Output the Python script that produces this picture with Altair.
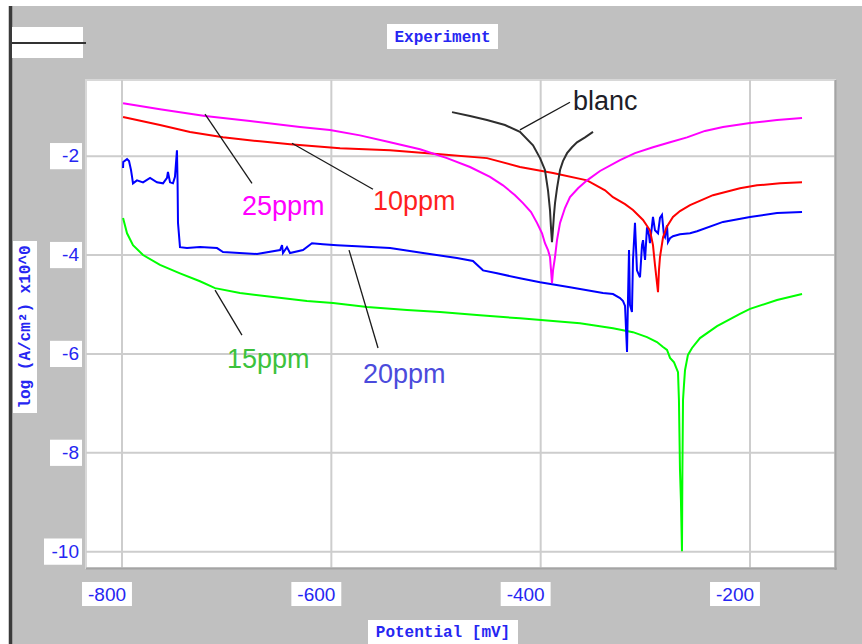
import altair as alt
import pandas as pd

# Polarisation curves: potential (mV) vs log current density
blanc_e = [-484.7, -467.5, -451.3, -434.1, -419.8, -407.3, -400.6, -395.9, -393.0, -391.1, -390.1, -389.2,
           -388.2, -387.3, -386.3, -384.4, -381.5, -378.7, -374.8, -370.1, -365.3, -357.6, -350.0]
blanc_logi = [-1.11, -1.19, -1.27, -1.37, -1.51, -1.78, -2.04, -2.28, -2.69, -3.09, -3.46, -3.74,
              -3.46, -3.19, -2.95, -2.65, -2.28, -2.10, -1.94, -1.82, -1.72, -1.62, -1.51]

ppm25_e = [-799.0, -763.7, -720.7, -677.7, -629.9, -601.3, -572.6, -543.9, -515.3, -489.5, -467.5, -448.4,
           -436.0, -424.5, -416.9, -409.2, -403.5, -398.7, -395.9, -393.0, -391.1, -390.1, -389.2, -388.2,
           -386.3, -384.4, -381.5, -376.8, -372.0, -364.3, -355.7, -343.3, -324.2, -309.9, -292.7, -276.4,
           -260.2, -243.0, -225.8, -200.0, -174.2, -150.3]
ppm25_logi = [-0.93, -1.05, -1.19, -1.29, -1.41, -1.47, -1.58, -1.72, -1.86, -2.04, -2.22, -2.42,
              -2.59, -2.79, -2.95, -3.13, -3.35, -3.56, -3.76, -3.90, -4.04, -4.31, -4.57, -4.31,
              -4.04, -3.70, -3.35, -3.05, -2.83, -2.65, -2.49, -2.30, -2.08, -1.94, -1.82, -1.72,
              -1.62, -1.49, -1.41, -1.33, -1.27, -1.23]

ppm10_e = [-799.0, -763.7, -735.0, -703.5, -668.2, -639.5, -591.7, -543.9, -496.2, -451.3, -419.8, -388.2,
           -355.7, -338.5, -330.9, -319.4, -311.8, -302.2, -295.6, -292.7, -290.8, -287.9, -287.0, -286.0,
           -283.1, -279.3, -273.6, -266.9, -257.3, -235.4, -209.6, -193.3, -171.3, -150.3]
ppm10_logi = [-1.21, -1.37, -1.51, -1.62, -1.70, -1.76, -1.84, -1.88, -1.96, -2.04, -2.22, -2.34,
              -2.49, -2.69, -2.83, -2.97, -3.09, -3.29, -3.50, -3.80, -4.20, -4.75, -4.31, -4.04,
              -3.64, -3.42, -3.23, -3.11, -2.99, -2.79, -2.65, -2.59, -2.55, -2.53]

ppm20_e = [-799.0, -798.8, -795.2, -793.3, -791.4, -790.4, -789.5, -785.7, -779.9, -773.2, -766.6, -760.8,
           -757.0, -756.1, -754.1, -751.3, -749.4, -747.5, -746.9, -746.5, -744.6, -737.9, -725.5, -709.2,
           -703.5, -671.0, -649.0, -647.1, -646.2, -642.4, -639.5, -627.1, -618.5, -608.0, -594.6, -575.5,
           -543.9, -512.4, -480.0, -464.7, -455.1, -441.7, -419.8, -400.6, -372.0, -340.5, -330.9, -324.2,
           -321.3, -319.4, -317.5, -316.6, -315.6, -314.7, -312.8, -311.8, -309.9, -308.0, -305.1, -303.2,
           -302.2, -300.3, -298.4, -296.5, -295.6, -293.6, -292.7, -290.8, -287.9, -286.0, -284.1, -282.2,
           -281.2, -279.3, -278.4, -276.4, -273.6, -266.9, -257.3, -250.6, -225.8, -200.0, -174.2, -150.3]
ppm20_logi = [-2.24, -2.12, -2.06, -2.10, -2.28, -2.42, -2.55, -2.49, -2.53, -2.44, -2.53, -2.55,
              -2.44, -2.32, -2.53, -2.55, -2.42, -1.88, -2.55, -3.35, -3.84, -3.86, -3.84, -3.86,
              -3.94, -3.98, -3.90, -3.80, -3.96, -3.84, -3.96, -3.90, -3.76, -3.78, -3.80, -3.82,
              -3.86, -3.96, -4.06, -4.12, -4.31, -4.37, -4.47, -4.55, -4.65, -4.77, -4.79, -4.87,
              -4.93, -5.03, -5.96, -4.91, -3.90, -5.01, -5.15, -4.10, -3.35, -4.31, -4.45, -3.80,
              -3.70, -4.10, -3.44, -3.60, -3.76, -3.40, -3.23, -3.50, -3.56, -3.25, -3.19, -3.60,
              -3.64, -3.40, -3.74, -3.66, -3.62, -3.58, -3.56, -3.52, -3.33, -3.23, -3.15, -3.13]

ppm15_e = [-799.0, -795.2, -789.5, -779.9, -763.7, -744.6, -725.5, -711.1, -687.3, -655.7, -623.3, -598.4,
           -565.9, -527.7, -496.2, -458.0, -419.8, -362.4, -330.9, -311.8, -298.4, -288.9, -283.1, -279.3,
           -276.4, -272.6, -268.8, -267.9, -266.9, -266.0, -265.0, -264.6, -264.0, -263.1, -262.1, -259.3,
           -255.4, -247.8, -231.5, -209.6, -200.0, -174.2, -150.3]
ppm15_logi = [-3.25, -3.56, -3.80, -4.00, -4.20, -4.37, -4.53, -4.67, -4.77, -4.85, -4.93, -4.97,
              -5.05, -5.11, -5.15, -5.22, -5.28, -5.38, -5.48, -5.56, -5.66, -5.76, -5.86, -5.92,
              -6.08, -6.17, -6.37, -6.93, -8.35, -8.96, -9.99, -8.35, -6.93, -6.63, -6.33, -6.02,
              -5.88, -5.68, -5.44, -5.19, -5.09, -4.91, -4.79]

series_names = ["15ppm", "20ppm", "10ppm", "25ppm", "blanc"]
series_colors = ["#00ff00", "#0000ff", "#ff0000", "#ff00ff", "#2e2e2e"]

# Annotation labels and their leader lines
ann_text = ["blanc", "25ppm", "10ppm", "15ppm", "20ppm"]
ann_color = ["#1e1e28", "#ff00ff", "#ff1f1f", "#3cc23c", "#4b4bdc"]
ann_e = [-369.1, -685.4, -560.2, -699.7, -569.7]
ann_logi = [-1.07, -3.19, -3.09, -6.29, -6.59]
lead_e1 = [-419.8, -720.7, -637.6, -711.1, -583.1]
lead_l1 = [-1.47, -1.15, -1.74, -4.71, -3.90]
lead_e2 = [-372.0, -675.8, -560.2, -685.4, -555.4]
lead_l2 = [-0.91, -2.55, -2.67, -5.62, -5.88]

x_ticks = [-800, -600, -400, -200]
x_tick_labels = ["-800", "-600", "-400", "-200"]
y_ticks = [-2, -4, -6, -8, -10]
y_tick_labels = ["-2", "-4", "-6", "-8", "-10"]

BLUE_TXT = "#2626f2"
W, H = 749, 488

frames = []
for name, e, li in [("15ppm", ppm15_e, ppm15_logi), ("20ppm", ppm20_e, ppm20_logi),
                    ("10ppm", ppm10_e, ppm10_logi), ("25ppm", ppm25_e, ppm25_logi),
                    ("blanc", blanc_e, blanc_logi)]:
    frames.append(pd.DataFrame({"series": name, "E": e, "logi": li, "idx": range(len(e))}))
curves = pd.concat(frames, ignore_index=True)

xs = alt.Scale(domain=[-834.4, -118.8], nice=False, zero=False)
ys = alt.Scale(domain=[-10.33, -0.46], nice=False, zero=False)

one = pd.DataFrame({"k": [0]})

# grid
xgrid = alt.Chart(pd.DataFrame({"t": x_ticks})).mark_rule(color="#cdcdcd", strokeWidth=2).encode(
    x=alt.X("t:Q", scale=xs, axis=None))
ygrid = alt.Chart(pd.DataFrame({"t": y_ticks})).mark_rule(color="#cdcdcd", strokeWidth=2).encode(
    y=alt.Y("t:Q", scale=ys, axis=None))

lines = alt.Chart(curves).mark_line(strokeWidth=2, clip=True).encode(
    x=alt.X("E:Q", scale=xs, axis=None),
    y=alt.Y("logi:Q", scale=ys, axis=None),
    color=alt.Color("series:N", scale=alt.Scale(domain=series_names, range=series_colors), legend=None),
    detail="series:N",
    order=alt.Order("idx:Q"),
)

leaders = alt.Chart(pd.DataFrame({"e1": lead_e1, "l1": lead_l1, "e2": lead_e2, "l2": lead_l2})).mark_rule(
    color="#1a1a1a", strokeWidth=1.3).encode(
    x=alt.X("e1:Q", scale=xs, axis=None), y=alt.Y("l1:Q", scale=ys, axis=None), x2="e2:Q", y2="l2:Q")

labels = alt.Chart(pd.DataFrame({"txt": ann_text, "c": ann_color, "e": ann_e, "l": ann_logi})).mark_text(
    align="left", baseline="alphabetic", font="Liberation Sans", fontSize=27).encode(
    x=alt.X("e:Q", scale=xs, axis=None), y=alt.Y("l:Q", scale=ys, axis=None),
    text="txt:N", color=alt.Color("c:N", scale=None))

# panel shadow on right and bottom
shadow_r = alt.Chart(one).mark_rule(color="#a4a4a4", strokeWidth=2).encode(
    x=alt.value(W + 0.5), y=alt.value(0), y2=alt.value(H + 2))
shadow_b = alt.Chart(one).mark_rule(color="#a4a4a4", strokeWidth=2).encode(
    x=alt.value(0), x2=alt.value(W + 2), y=alt.value(H + 0.5))

# tick labels in white boxes
xbox = alt.Chart(pd.DataFrame({"t": x_ticks})).transform_calculate(
    a="datum.t - 38.2", b="datum.t + 9.5").mark_rect(color="white").encode(
    x=alt.X("a:Q", scale=xs, axis=None), x2="b:Q", y=alt.value(502), y2=alt.value(526))
xlab = alt.Chart(pd.DataFrame({"t": x_ticks, "s": x_tick_labels})).mark_text(
    font="Liberation Sans", fontSize=19, color=BLUE_TXT, baseline="middle", xOffset=-15).encode(
    x=alt.X("t:Q", scale=xs, axis=None), y=alt.value(515), text="s:N")

ybox = alt.Chart(pd.DataFrame({"t": y_ticks, "s": y_tick_labels})).transform_calculate(
    a="datum.t + 0.265", b="datum.t - 0.265", left="-4 - (20 + 6 * length(datum.s))").mark_rect(
    color="white").encode(
    y=alt.Y("a:Q", scale=ys, axis=None), y2="b:Q",
    x=alt.X("left:Q", scale=None, axis=None), x2=alt.value(-4))
ylab = alt.Chart(pd.DataFrame({"t": y_ticks, "s": y_tick_labels})).mark_text(
    font="Liberation Sans", fontSize=19, color=BLUE_TXT, baseline="middle", align="right").encode(
    y=alt.Y("t:Q", scale=ys, axis=None), x=alt.value(-7), text="s:N")

# window chrome around the plot
def box(x1, x2, y1, y2, color="white"):
    return alt.Chart(one).mark_rect(color=color).encode(
        x=alt.value(x1), x2=alt.value(x2), y=alt.value(y1), y2=alt.value(y2))

chrome = [
    box(-86, W + 27, -80, -74),
    box(-86, -77, -80, H + 76),
    alt.Chart(one).mark_rule(color="#3a3a3a", strokeWidth=3.5).encode(
        x=alt.value(-75.5), y=alt.value(-74), y2=alt.value(H + 76)),
    box(-74, -3, -53, -22),
    alt.Chart(one).mark_rule(color="#333333", strokeWidth=2).encode(
        x=alt.value(-74), x2=alt.value(0), y=alt.value(-37)),
    box(301, 412, -56, -31),
    box(282, 432, 540, H + 76),
    box(-73, -49, 161, 333),
]

def caption(txt, x, y, angle=0):
    return alt.Chart(one).mark_text(
        text=txt, font="Liberation Mono", fontWeight="bold", fontSize=16, color=BLUE_TXT,
        align="center", baseline="middle", angle=angle).encode(x=alt.value(x), y=alt.value(y))

titles = [
    caption("Experiment", 356.5, -43),
    caption("Potential [mV]", 357, 552),
    caption("log (A/cm²) x10^0", -61, 247, angle=270),
]

chart = alt.layer(
    xgrid, ygrid, lines, leaders, labels, shadow_r, shadow_b,
    *chrome, xbox, xlab, ybox, ylab, *titles
).properties(
    width=W, height=H,
    padding={"left": 86, "top": 80, "right": 27, "bottom": 76},
    autosize=alt.AutoSizeParams(type="none"),
    background="#c0c0c0",
).configure_view(fill="white", stroke="#d8d8d8", strokeWidth=2)

chart.save("out.html", embed_options={"renderer": "svg", "actions": False})
